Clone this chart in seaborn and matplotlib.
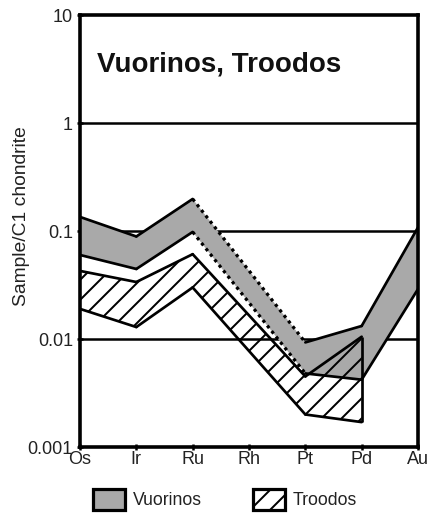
import numpy as np
import pandas as pd
import seaborn as sns
import matplotlib
matplotlib.use("Agg")
import matplotlib.pyplot as plt
from matplotlib.patches import Patch

# Chondrite-normalised PGE + Au patterns
elements = ["Os", "Ir", "Ru", "Rh", "Pt", "Pd", "Au"]

vuorinos_elements = ["Os", "Ir", "Ru", "Pt", "Pd", "Au"]
vuorinos_upper = [0.135, 0.089, 0.198, 0.0093, 0.0132, 0.108]
vuorinos_lower = [0.060, 0.0445, 0.098, 0.0048, 0.0042, 0.029]

troodos_elements = ["Os", "Ir", "Ru", "Pt", "Pd"]
troodos_upper = [0.0427, 0.0337, 0.061, 0.0045, 0.0105]
troodos_lower = [0.019, 0.0129, 0.030, 0.0020, 0.0017]

y_ticks = [0.001, 0.01, 0.1, 1, 10]
y_tick_labels = ["0.001", "0.01", "0.1", "1", "10"]

DPI = 120


def px(v):
    """Convert a size in pixels to points at the output resolution."""
    return v * 72.0 / DPI


sns.set_theme(style="white")
plt.rcParams["font.family"] = ["Liberation Sans", "DejaVu Sans"]
plt.rcParams["hatch.linewidth"] = px(2.0)
plt.rcParams["hatch.color"] = "black"

fig = plt.figure(figsize=(428 / DPI, 513 / DPI), dpi=DPI)
ax = fig.add_axes([80 / 428, 1 - 447 / 513, 338 / 428, 432 / 513])

pos = {el: i for i, el in enumerate(elements)}
vx = np.array([pos[e] for e in vuorinos_elements], dtype=float)
tx = np.array([pos[e] for e in troodos_elements], dtype=float)

ax.set_yscale("log")
ax.set_ylim(0.001, 10)
ax.set_xlim(0, 6)

GRAY = "#a9a9a9"
LW = px(2.7)
DOT = (0, (1, 1.2))

# Vuorinos field (grey)
ax.fill_between(vx, vuorinos_lower, vuorinos_upper, facecolor=GRAY,
                edgecolor="none", linewidth=0, zorder=1)

# Troodos field (hatched, drawn over the grey)
ax.fill_between(tx, troodos_lower, troodos_upper, facecolor="none",
                edgecolor="black", hatch="//", linewidth=0, zorder=2)

# Outline segments
seg_rows = []


def add_segments(xs, ys, name, dotted_between=None):
    for i in range(len(xs) - 1):
        style = "solid"
        if dotted_between is not None and (xs[i], xs[i + 1]) == dotted_between:
            style = "dotted"
        seg_rows.append(pd.DataFrame({"x": [xs[i], xs[i + 1]],
                                      "y": [ys[i], ys[i + 1]],
                                      "seg": f"{name}-{i}", "style": style}))


ru, pt = float(pos["Ru"]), float(pos["Pt"])
add_segments(vx, vuorinos_upper, "vu", dotted_between=(ru, pt))
add_segments(vx, vuorinos_lower, "vl", dotted_between=(ru, pt))
add_segments(tx, troodos_upper, "tu")
add_segments(tx, troodos_lower, "tl")
segs = pd.concat(seg_rows, ignore_index=True)

for seg_id, d in segs.groupby("seg", sort=False):
    dotted = d["style"].iloc[0] == "dotted"
    sns.lineplot(data=d, x="x", y="y", ax=ax, color="black",
                 lw=px(3.2) if dotted else LW,
                 linestyle=DOT if dotted else "-",
                 zorder=3, legend=False, estimator=None)

# closing edge of the Troodos field at Pd
ax.vlines(tx[-1], troodos_lower[-1], troodos_upper[-1], color="black", lw=LW, zorder=3)

# reference grid lines
for yv in y_ticks[1:-1]:
    ax.axhline(yv, color="black", lw=px(2.5), zorder=0.5)

ax.set_xticks(range(len(elements)))
ax.set_xticklabels(elements)
ax.set_yticks(y_ticks)
ax.set_yticklabels(y_tick_labels)
ax.yaxis.set_minor_locator(matplotlib.ticker.NullLocator())
ax.tick_params(axis="both", which="major", direction="inout", length=px(6), width=px(2.5),
               color="black", labelsize=px(18), labelcolor="#222222")
ax.tick_params(axis="x", pad=px(1))
ax.tick_params(axis="y", pad=px(4))
ax.tick_params(left=True, bottom=True)

for sp in ax.spines.values():
    sp.set_visible(True)
    sp.set_color("black")
    sp.set_linewidth(px(3.6))
    sp.set_zorder(5)

ax.set_xlabel("")
ax.set_ylabel("Sample/C1 chondrite", fontsize=px(19.2), color="#222222")
ax.yaxis.set_label_coords(-0.148, 0.535)

ax.text(0.05, 0.885, "Vuorinos, Troodos", transform=ax.transAxes, fontsize=px(27.8),
        fontweight="bold", color="#111111", ha="left", va="center")

handles = [
    Patch(facecolor=GRAY, edgecolor="black", linewidth=px(3.2), label="Vuorinos"),
    Patch(facecolor="white", edgecolor="black", hatch="//", linewidth=px(3.2), label="Troodos"),
]
fig.legend(handles=handles, loc="center left", bbox_to_anchor=(93 / 428, 13.5 / 513),
           ncol=2, frameon=False, fontsize=px(17.7), handlelength=1.8, handleheight=1.45,
           handletextpad=0.45, columnspacing=2.9, borderpad=0, borderaxespad=0,
           labelcolor="#222222")

fig.savefig("out.png", dpi=DPI)
